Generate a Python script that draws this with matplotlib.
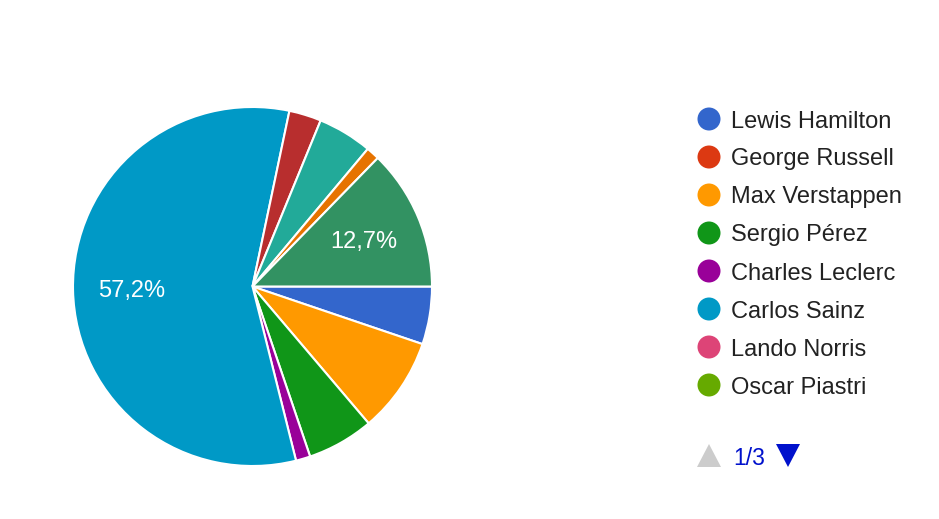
import matplotlib
matplotlib.use("Agg")
import matplotlib.pyplot as plt
from matplotlib.patches import Circle, Polygon

plt.rcParams['font.family'] = ['Liberation Sans', 'DejaVu Sans']

drivers = ["Lewis Hamilton", "George Russell", "Max Verstappen", "Sergio Pérez",
           "Charles Leclerc", "Carlos Sainz", "Lando Norris", "Oscar Piastri",
           "Fernando Alonso", "Lance Stroll", "Pierre Gasly", "Esteban Ocon",
           "Alexander Albon", "Logan Sargeant", "Yuki Tsunoda", "Daniel Ricciardo",
           "Valtteri Bottas", "Zhou Guanyu"]
shares = [5.2, 0, 8.6, 6.0, 1.3, 57.2, 0, 0, 2.9, 0, 0, 4.9, 0, 0, 1.2, 0, 0, 12.7]
colors = ["#3366cc", "#dc3912", "#ff9900", "#109618", "#990099", "#0099c6",
          "#dd4477", "#66aa00", "#b82e2e", "#316395", "#994499", "#22aa99",
          "#aaaa11", "#6633cc", "#e67300", "#8b0707", "#651067", "#329262"]
legend_page = "1/3"
legend_count = 8

W, H = 939, 519
fig = plt.figure(figsize=(W / 100, H / 100), dpi=100)
ax = fig.add_axes([0, 0, 1, 1])

vals = [v for v in shares if v > 0]
cols = [c for v, c in zip(shares, colors) if v > 0]

cx, cy, r = 252.5, 286.5, 179.5

def fmt(p):
    return (f"{p:.1f}%".replace(".", ",")) if p >= 10 else ""

wedges, texts, autotexts = ax.pie(
    vals, colors=cols, startangle=0, counterclock=True,
    center=(cx, cy), radius=r, autopct=fmt, pctdistance=0.675,
    wedgeprops=dict(edgecolor="white", linewidth=1.5),
    textprops=dict(color="white", fontsize=17))
for t in autotexts:
    t.set_va("center_baseline")
    t.set_ha("center")

ax.set_xlim(0, W)
ax.set_ylim(H, 0)
ax.set_aspect("auto")
ax.axis("off")

# legend
lx, ly0, dy = 709, 119, 38
for i in range(legend_count):
    y = ly0 + i * dy
    ax.add_patch(Circle((lx, y), 11.5, color=colors[i], lw=0))
    ax.text(lx + 22, y, drivers[i], fontsize=17, color="#222222",
            va="center_baseline", ha="left")

# pagination
py = 456
ax.add_patch(Polygon([(697, 467), (721, 467), (709, 444)], closed=True,
                     color="#cccccc", lw=0))
ax.text(749, py, legend_page, fontsize=16.5, color="#0011cc",
        va="center_baseline", ha="center")
ax.add_patch(Polygon([(776, 444), (800, 444), (788, 467)], closed=True,
                     color="#0011cc", lw=0))

fig.savefig("out.png", dpi=100)
